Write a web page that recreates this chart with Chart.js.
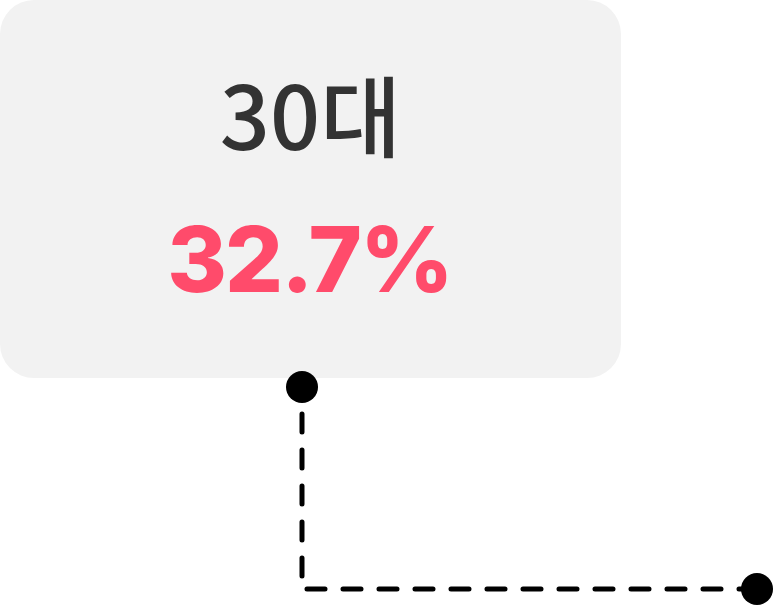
<!DOCTYPE html>
<html lang="ko">
<head>
  <meta charset="UTF-8" />
  <title>30대 비율</title>
  <script src="https://cdn.jsdelivr.net/npm/chart.js"></script>
  <style>
    body {
      margin: 0;
      padding: 0;
      background: #fff;
    }
    #wrap {
      width: 774px;
      height: 606px;
    }
  </style>
</head>
<body>
  <div id="wrap">
    <canvas id="callout" width="774" height="606"></canvas>
  </div>

  <script>
    // 카테고리와 값
    const category = ["30대"];
    const share = [32.7];

    // 말풍선 영역 (데이터 좌표)
    const boxX = [0, 621];
    const boxY = [0, 378];

    // 연결선 경로와 끝점
    const lineX = [302, 302, 757];
    const lineY = [414, 589, 589];
    const dotX = [302, 757];
    const dotY = [387, 589];

    const toPoints = (xs, ys) => xs.map((x, i) => ({ x: x, y: ys[i] }));

    // 배경 상자 + 텍스트
    const calloutPlugin = {
      id: "calloutBox",
      beforeDatasetsDraw(chart) {
        const { ctx, scales } = chart;
        const x0 = scales.x.getPixelForValue(boxX[0]);
        const x1 = scales.x.getPixelForValue(boxX[1]);
        const y0 = scales.y.getPixelForValue(boxY[0]);
        const y1 = scales.y.getPixelForValue(boxY[1]);
        ctx.save();
        ctx.fillStyle = "#f2f2f2";
        ctx.beginPath();
        ctx.roundRect(x0, y0, x1 - x0, y1 - y0, 34);
        ctx.fill();

        const cx = (x0 + x1) / 2;
        ctx.textAlign = "center";
        ctx.textBaseline = "alphabetic";
        ctx.fillStyle = "#333333";
        ctx.font = "500 88px 'Noto Sans CJK KR'";
        ctx.fillText(category[0], cx, 150);

        ctx.fillStyle = "#ff4b6b";
        ctx.font = "800 91px Inter";
        ctx.letterSpacing = "-2px";
        ctx.fillText(share[0].toFixed(1) + "%", cx - 1, 292);
        ctx.restore();
      }
    };

    new Chart(document.getElementById("callout"), {
      type: "scatter",
      data: {
        datasets: [
          {
            label: "연결선",
            data: toPoints(lineX, lineY),
            showLine: true,
            borderColor: "#000",
            borderWidth: 5,
            borderDash: [18, 18],
            borderCapStyle: "round",
            borderJoinStyle: "round",
            pointRadius: 0,
            clip: false
          },
          {
            label: "끝점",
            data: toPoints(dotX, dotY),
            showLine: false,
            pointRadius: 16,
            pointBackgroundColor: "#000",
            pointBorderWidth: 0,
            clip: false
          }
        ]
      },
      options: {
        responsive: false,
        animation: false,
        layout: { padding: 0, autoPadding: false },
        plugins: {
          legend: { display: false },
          tooltip: { enabled: false }
        },
        scales: {
          x: { type: "linear", min: 0, max: 774, display: false },
          y: { type: "linear", min: 0, max: 606, reverse: true, display: false }
        }
      },
      plugins: [calloutPlugin]
    });
  </script>
</body>
</html>
